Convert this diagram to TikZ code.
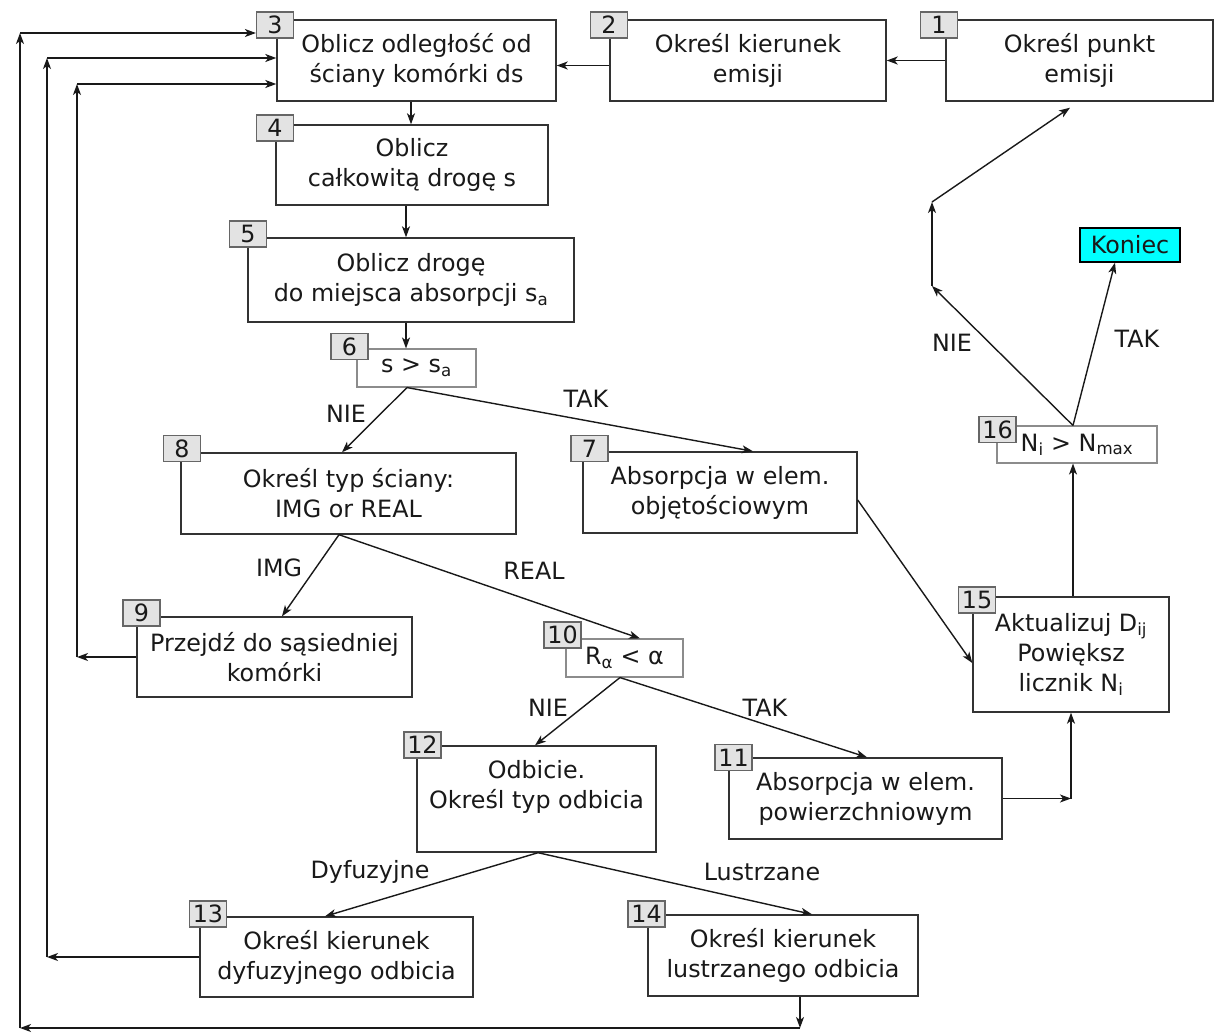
\documentclass[tikz,border=0pt]{standalone}
\usepackage{fontspec}
\setmainfont{DejaVu Sans}
\usetikzlibrary{arrows.meta,calc}
\definecolor{endcyan}{RGB}{0,255,255}
\begin{document}
\begin{tikzpicture}[x=1pt,y=-1pt,
  txt/.style={font=\fontsize{23.8}{30}\selectfont, text=black!90},
  box/.style={txt, draw=black!80, line width=1.4pt, fill=white, align=center, inner sep=0pt},
  cond/.style={box, draw=black!45, line width=1.1pt},
  badge/.style={txt, draw=black!60, fill=black!11, line width=1.2pt, minimum width=37pt, minimum height=26pt, inner sep=0pt},
  endbox/.style={box, fill=endcyan, draw=black, line width=1.3pt},
  flow/.style={draw=black!90, line width=1.4pt, -{Stealth[length=11pt,width=8pt,inset=3pt]}},
  lbl/.style={txt, anchor=base, inner sep=0pt}
]
\useasboundingbox (0,0) rectangle (1216,1033);

% process boxes
\node[box, minimum width=267pt, minimum height=81pt] (n1) at (1079.5,60.5) {Określ punkt\\emisji};
\node[box, minimum width=276pt, minimum height=81pt] (n2) at (748,60.5) {Określ kierunek\\emisji};
\node[box, minimum width=279pt, minimum height=81pt] (n3) at (416.5,60.5) {Oblicz odległość od\\ściany komórki ds};
\node[box, minimum width=272pt, minimum height=80pt] (n4) at (412,165) {Oblicz\\całkowitą drogę s};
\node[box, minimum width=326pt, minimum height=84pt] (n5) at (411,280) {Oblicz drogę\\do miejsca absorpcji s\textsubscript{a}};
\node[cond, minimum width=119pt, minimum height=38pt] (n6) at (416.5,368) {s > s\textsubscript{a}};
\node[box, minimum width=274pt, minimum height=81pt] (n7) at (720,492.5) {Absorpcja w elem.\\objętościowym};
\node[box, minimum width=335pt, minimum height=81pt] (n8) at (348.5,493.5) {Określ typ ściany:\\IMG or REAL};
\node[box, minimum width=275pt, minimum height=80pt] (n9) at (274.5,657) {Przejdź do sąsiedniej\\komórki};
\node[cond, minimum width=117pt, minimum height=38pt] (n10) at (624.5,658) {R\textsubscript{α} < α};
\node[box, minimum width=273pt, minimum height=81pt] (n11) at (865.5,798.5) {Absorpcja w elem.\\powierzchniowym};
\node[box, minimum width=239pt, minimum height=106pt] (n12) at (536.5,799) {Odbicie.\\Określ typ odbicia\\~};
\node[box, minimum width=273pt, minimum height=80pt] (n13) at (336.5,957) {Określ kierunek\\dyfuzyjnego odbicia};
\node[box, minimum width=270pt, minimum height=81pt] (n14) at (783,955.5) {Określ kierunek\\lustrzanego odbicia};
\node[box, minimum width=196pt, minimum height=115pt] (n15) at (1071,654.5) {Aktualizuj D\textsubscript{ij}\\Powiększ\\licznik N\textsubscript{i}};
\node[cond, minimum width=160pt, minimum height=37pt] (n16) at (1077,444.5) {N\textsubscript{i} > N\textsubscript{max}};
\node[endbox, minimum width=100pt, minimum height=34pt] (nK) at (1130,245) {Koniec};

% step numbers
\node[badge] (b1) at (939,25) {1};
\node[badge] (b2) at (609,25) {2};
\node[badge] (b3) at (275,25) {3};
\node[badge] (b4) at (275,128) {4};
\node[badge] (b5) at (248,234) {5};
\node[badge] (b6) at (349.5,346.5) {6};
\node[badge] (b7) at (589.5,448.5) {7};
\node[badge] (b8) at (182,448.5) {8};
\node[badge] (b9) at (141.5,613) {9};
\node[badge] (b10) at (562.5,635) {10};
\node[badge] (b11) at (733.5,757.5) {11};
\node[badge] (b12) at (422.5,745) {12};
\node[badge] (b13) at (208,914) {13};
\node[badge] (b14) at (646.5,914) {14};
\node[badge] (b15) at (977,600) {15};
\node[badge] (b16) at (997.5,429.5) {16};

% main chain
\draw[flow] (n1.west) -- (n2.east);
\draw[flow] ([yshift=-5pt]n2.west) -- ([yshift=-5pt]n3.east);
\draw[flow] ([xshift=-5.5pt]n3.south) -- ([xshift=-5.5pt]n3.south |- n4.north);
\draw[flow] ([xshift=-6pt]n4.south) -- ([xshift=-6pt]n4.south |- n5.north);
\draw[flow] ([xshift=-5pt]n5.south) -- ([xshift=-5pt]n5.south |- n6.north);

% decisions
\draw[flow] ([xshift=-9.5pt]n6.south) -- ([xshift=-6.5pt]n8.north);
\draw[flow] ([xshift=-9.5pt]n6.south) -- ([xshift=33pt]n7.north);
\draw[flow] ([xshift=-9.5pt]n8.south) -- ([xshift=7.5pt]n9.north);
\draw[flow] ([xshift=-9.5pt]n8.south) -- ([xshift=15.5pt]n10.north);
\draw[flow] ([xshift=-4.5pt]n10.south) -- ([xshift=-1.5pt]n12.north);
\draw[flow] ([xshift=-4.5pt]n10.south) -- ([xshift=1.5pt]n11.north);
\draw[flow] ([xshift=1.5pt]n12.south) -- ([xshift=-11.5pt]n13.north);
\draw[flow] ([xshift=1.5pt]n12.south) -- ([xshift=29pt]n14.north);

% absorption to counter
\draw[flow] ([yshift=-7.5pt]n7.east) -- ([yshift=-8.5pt]n15.west);
\coordinate (c11) at (n11.east -| n15.south);
\draw[flow] (n11.east) -- (c11);
\draw[flow] (c11) -- (n15.south);
\draw[flow] ([xshift=2pt]n15.north) -- ([xshift=2pt]n15.north |- n16.south);

% end test
\draw[flow] ([xshift=-4pt]n16.north) -- ([xshift=-15pt]nK.south);
\coordinate (r1) at (932,286);
\coordinate (r2) at (932,202);
\draw[flow] ([xshift=-4pt]n16.north) -- (r1);
\draw[flow] (r1) -- (r2);
\draw[flow] (r2) -- ([xshift=-9.5pt,yshift=-6pt]n1.south);

% return loops
\coordinate (l9a) at (77,657);
\coordinate (l9b) at (77,84);
\draw[flow] (n9.west) -- (l9a);
\draw[flow] (l9a) -- (l9b);
\draw[flow] (l9b) -- (n3.west |- l9b);

\coordinate (l13a) at (47,957);
\coordinate (l13b) at (47,58);
\draw[flow] (n13.west) -- (l13a);
\draw[flow] (l13a) -- (l13b);
\draw[flow] (l13b) -- (n3.west |- l13b);

\coordinate (l14a) at (800,1028);
\coordinate (l14b) at (20,1028);
\coordinate (l14c) at (20,33);
\draw[flow] (n14.south -| l14a) -- (l14a);
\draw[flow] (l14a) -- (l14b);
\draw[flow] (l14b) -- (l14c);
\draw[flow] (l14c) -- (b3.west |- l14c);

% branch labels
\node[lbl] (t1) at (346,422) {NIE};
\node[lbl] (t2) at (586,407) {TAK};
\node[lbl] (t3) at (279,576) {IMG};
\node[lbl] (t4) at (534,579) {REAL};
\node[lbl] (t5) at (548,716) {NIE};
\node[lbl] (t6) at (765,716) {TAK};
\node[lbl] (t7) at (370,878) {Dyfuzyjne};
\node[lbl] (t8) at (762,880) {Lustrzane};
\node[lbl] (t9) at (952,351) {NIE};
\node[lbl] (t10) at (1137,347) {TAK};
\end{tikzpicture}
\end{document}
